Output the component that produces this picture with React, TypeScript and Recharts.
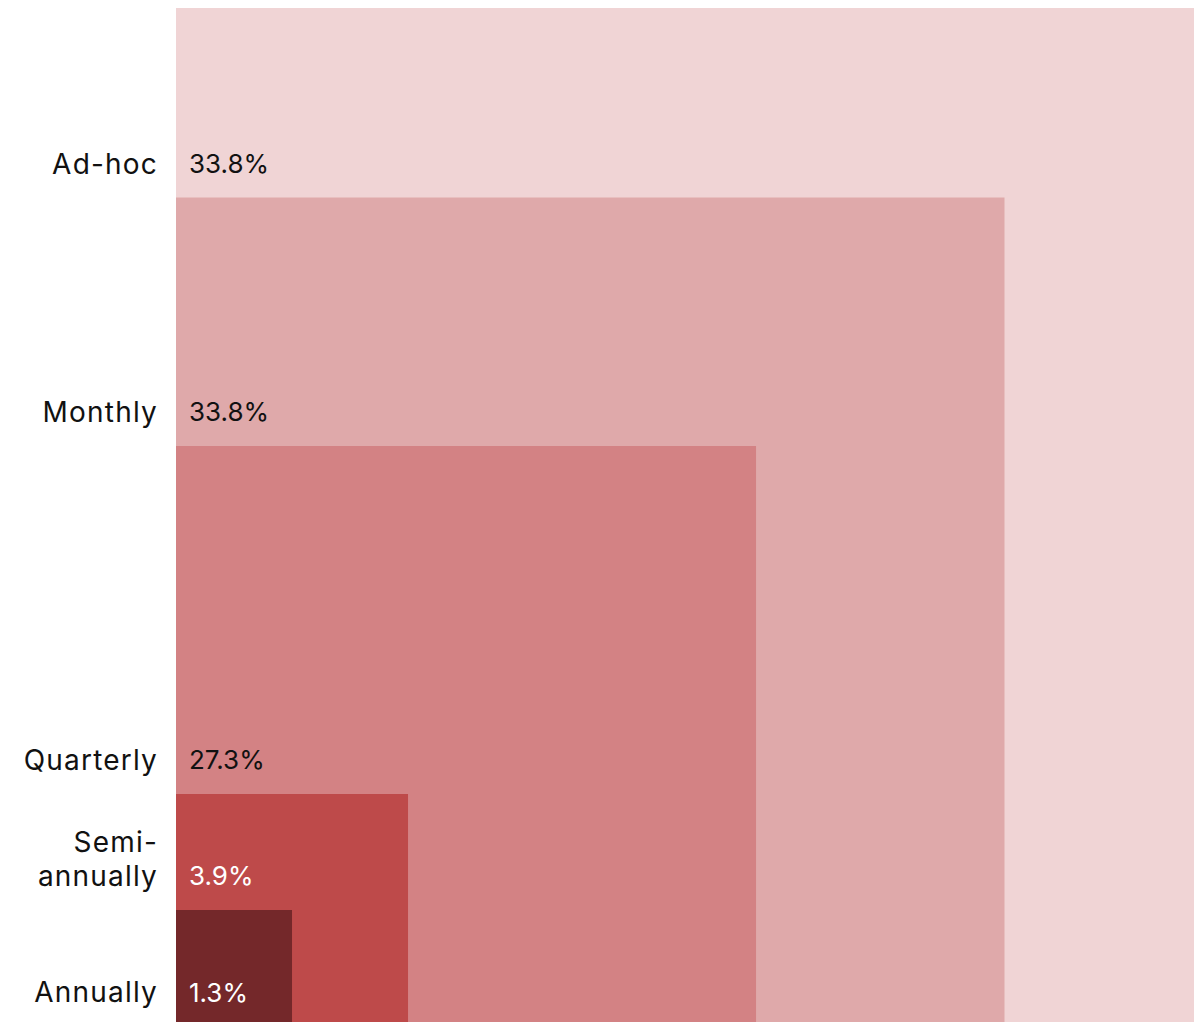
import { ComposedChart, XAxis, YAxis, ReferenceArea, ReferenceLine } from 'recharts';

// Share of respondents by reporting frequency (%), largest band first.
const categories = ['Ad-hoc', 'Monthly', 'Quarterly', 'Semi-annually', 'Annually'];
const categoryLines = [['Ad-hoc'], ['Monthly'], ['Quarterly'], ['Semi-', 'annually'], ['Annually']];
const shares = [33.8, 33.8, 27.3, 3.9, 1.3];
const colors = ['#F0D4D5', '#DFA9AA', '#D38284', '#BE4A4A', '#74282A'];
const valueColors = ['#111111', '#111111', '#111111', '#FFFFFF', '#FFFFFF'];

const FONT = 'Inter, "Noto Sans", sans-serif';
const LINE_H = 34;

const total = shares.reduce((a, b) => a + b, 0);

// each square's area = cumulative share from the bottom (smallest) category up
const squares = categories.map((name, i) => {
  const cum = shares.slice(i).reduce((a, b) => a + b, 0);
  const side = Math.sqrt(cum / total);
  const nextCum = shares.slice(i + 1).reduce((a, b) => a + b, 0);
  const floor = Math.sqrt(nextCum / total);
  return { name, side, floor, i };
});

function BandLabel({ viewBox, idx }: { viewBox?: any; idx: number }) {
  if (!viewBox) return null;
  const left = viewBox.x;
  const base = viewBox.y - 34;
  const lines = categoryLines[idx];
  return (
    <g>
      {lines.map((ln, k) => (
        <text
          key={k}
          x={left - 18}
          y={base - (lines.length - 1 - k) * LINE_H}
          textAnchor="end"
          dominantBaseline="central"
          fontFamily={FONT}
          fontSize={28}
          letterSpacing={1.2}
          fill="#111111"
        >
          {ln}
        </text>
      ))}
      <text
        x={left + 13}
        y={base}
        textAnchor="start"
        dominantBaseline="central"
        fontFamily={FONT}
        fontSize={26}
        fill={valueColors[idx]}
      >
        {`${shares[idx].toFixed(1)}%`}
      </text>
    </g>
  );
}

export default function App() {
  return (
    <div style={{ position: 'absolute', top: 0, left: 0, width: 1200, height: 1022, overflow: 'hidden', background: '#fff' }}>
      <div style={{ position: 'absolute', top: 8, left: 8 }}>
        <ComposedChart width={1186} height={1018} margin={{ top: 0, right: 0, bottom: 0, left: 168 }}>
          <XAxis type="number" dataKey="x" domain={[0, 1]} hide allowDataOverflow />
          <YAxis type="number" dataKey="y" domain={[0, 1]} hide allowDataOverflow />
          {squares.map((s) => (
            <ReferenceArea
              key={s.name}
              x1={0}
              x2={s.side}
              y1={0}
              y2={s.side}
              fill={colors[s.i]}
              fillOpacity={1}
              stroke="none"
              ifOverflow="visible"
            />
          ))}
          {squares.map((s) => (
            <ReferenceLine
              key={`lbl-${s.name}`}
              y={s.floor}
              stroke="none"
              ifOverflow="visible"
              label={(p: any) => <BandLabel viewBox={p.viewBox} idx={s.i} />}
            />
          ))}
        </ComposedChart>
      </div>
    </div>
  );
}
